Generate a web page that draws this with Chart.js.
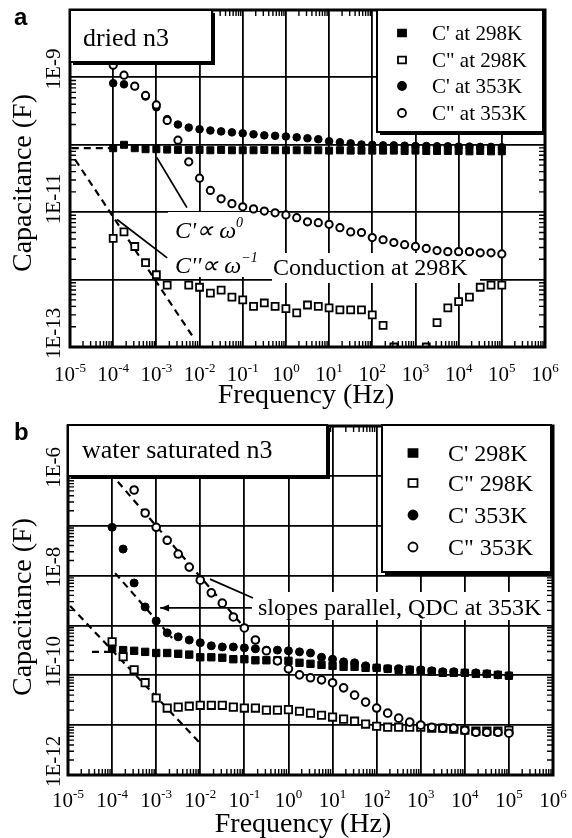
<!DOCTYPE html>
<html>
<head>
<meta charset="utf-8">
<script src="https://cdn.jsdelivr.net/npm/chart.js@4.4.0/dist/chart.umd.min.js"></script>
<style>
  html, body { margin: 0; padding: 0; background: #fff; }
  #wrap { position: relative; width: 572px; height: 838px; }
  canvas { position: absolute; left: 0; }
  #chartA { top: 0; }
  #chartB { top: 415px; }
</style>
</head>
<body>
<div id="wrap">
  <canvas id="chartA" width="572" height="415"></canvas>
  <canvas id="chartB" width="572" height="423"></canvas>
</div>
<script>
// measurement frequencies (Hz), 4 per decade, shared by both panels
const freq = [1e-4, 1.78e-4, 3.16e-4, 5.62e-4, 1e-3, 1.78e-3, 3.16e-3, 5.62e-3,
  1e-2, 1.78e-2, 3.16e-2, 5.62e-2, 0.1, 0.178, 0.316, 0.562,
  1, 1.78, 3.16, 5.62, 10, 17.8, 31.6, 56.2, 100, 178, 316, 562,
  1e3, 1.78e3, 3.16e3, 5.62e3, 1e4, 1.78e4, 3.16e4, 5.62e4, 1e5];

const xDecades = [1e-5, 1e-4, 1e-3, 1e-2, 1e-1, 1, 10, 100, 1e3, 1e4, 1e5, 1e6];
const xExponents = ['-5', '-4', '-3', '-2', '-1', '0', '1', '2', '3', '4', '5', '6'];

// ---- panel a : dried n3 ----
const legendA = ["C' at 298K", 'C" at 298K', "C' at 353K", 'C" at 353K'];
const yGridA = [1e-13, 1e-12, 1e-11, 1e-10, 1e-9, 1e-8];
const yTicksA = [1e-9, 1e-11, 1e-13];
const yLabelsA = ['1E-9', '1E-11', '1E-13'];

const cp298A = [8.9e-11, 1.0e-10, 8.9e-11, 8.6e-11, 8.6e-11, 8.5e-11, 8.4e-11, 8.4e-11,
  8.4e-11, 8.3e-11, 8.4e-11, 8.3e-11, 8.3e-11, 8.3e-11, 8.4e-11, 8.3e-11,
  8.3e-11, 8.3e-11, 8.3e-11, 8.3e-11, 8.2e-11, 8.3e-11, 8.2e-11, 8.2e-11, 8.2e-11, 8.2e-11, 8.2e-11, 8.1e-11,
  8.2e-11, 8.1e-11, 8.1e-11, 8.1e-11, 8.1e-11, 8.0e-11, 8.1e-11, 8.0e-11, 8.0e-11];
const cpp298A = [4.1e-12, 5.1e-12, 3.1e-12, 1.78e-12, 1.18e-12, 8.3e-13, null, 8.3e-13,
  7.7e-13, 6.3e-13, 7.0e-13, 5.5e-13, 5.0e-13, 4.0e-13, 4.5e-13, 4.0e-13,
  3.7e-13, 3.2e-13, 4.2e-13, 4.0e-13, 3.8e-13, 3.55e-13, 3.55e-13, 3.55e-13, 3.0e-13, 2.1e-13, 1.0e-13, null,
  null, 1.0e-13, 2.3e-13, 3.8e-13, 4.7e-13, 5.5e-13, 7.7e-13, 8.3e-13, 8.3e-13];
const cp353A = [8.2e-10, 7.9e-10, 7.4e-10, 5.2e-10, 3.6e-10, 2.4e-10, 2.0e-10, 1.8e-10,
  1.7e-10, 1.63e-10, 1.58e-10, 1.53e-10, 1.48e-10, 1.43e-10, 1.38e-10, 1.36e-10,
  1.33e-10, 1.29e-10, 1.25e-10, 1.21e-10, 1.13e-10, 1.09e-10, 1.05e-10, 1.01e-10, 1.0e-10, 9.8e-11, 9.8e-11, 9.7e-11,
  9.6e-11, 9.6e-11, 9.5e-11, 9.5e-11, 9.4e-11, 9.4e-11, 9.3e-11, 9.3e-11, 9.2e-11];
const cpp353A = [1.52e-9, 1.08e-9, 7.4e-10, 5.4e-10, 3.9e-10, 2.3e-10, 1.17e-10, 5.6e-11,
  3.2e-11, 2.1e-11, 1.58e-11, 1.34e-11, 1.2e-11, 1.12e-11, 1.04e-11, 9.8e-12,
  9.1e-12, 8.3e-12, 7.2e-12, 7.0e-12, 6.6e-12, 5.9e-12, 5.1e-12, 5.0e-12, 4.2e-12, 3.9e-12, 3.55e-12, 3.3e-12,
  3.1e-12, 2.9e-12, 2.7e-12, 2.6e-12, 2.6e-12, 2.6e-12, 2.5e-12, 2.5e-12, 2.4e-12];

// guide lines, panel a
const fitA1x = [1.1e-5, 8.5e-5], fitA1y = [8.9e-11, 8.9e-11];      // C' ~ w^0
const fitA2x = [1.32e-5, 7.1e-3], fitA2y = [6.0e-11, 1.4e-13];     // C'' ~ w^-1
const leadA1x = [1.02e-3, 5.1e-3], leadA1y = [6.5e-11, 1.17e-11];
const leadA2x = [1.23e-4, 1.78e-3], leadA2y = [7.8e-12, 2.1e-12];

// ---- panel b : water saturated n3 ----
const legendB = ["C' 298K", 'C" 298K', "C' 353K", 'C" 353K'];
const yGridB = [1e-12, 1e-11, 1e-10, 1e-9, 1e-8, 1e-7, 1e-6, 1e-5];
const yTicksB = [1e-6, 1e-8, 1e-10, 1e-12];
const yLabelsB = ['1E-6', '1E-8', '1E-10', '1E-12'];

const cp298B = [3.4e-10, 3.2e-10, 3.1e-10, 2.95e-10, 2.8e-10, 2.8e-10, 2.7e-10, 2.6e-10,
  2.3e-10, 2.3e-10, 2.25e-10, 2.1e-10, 2.1e-10, 2.0e-10, 2.0e-10, 2.0e-10,
  1.95e-10, 1.78e-10, 1.7e-10, 1.62e-10, 1.55e-10, 1.48e-10, 1.48e-10, 1.41e-10, 1.41e-10, 1.35e-10, 1.29e-10, 1.29e-10,
  1.23e-10, 1.18e-10, 1.12e-10, 1.12e-10, 1.12e-10, 1.07e-10, 1.07e-10, 1.02e-10, 9.8e-11];
const cpp298B = [4.7e-10, 2.35e-10, 1.29e-10, 7.1e-11, 3.5e-11, 2.2e-11, 2.3e-11, 2.4e-11,
  2.5e-11, 2.5e-11, 2.5e-11, 2.3e-11, 2.2e-11, 2.2e-11, 2.0e-11, 2.0e-11,
  2.05e-11, 1.9e-11, 1.74e-11, 1.58e-11, 1.45e-11, 1.32e-11, 1.2e-11, 1.05e-11, 9.5e-12, 9.1e-12, 9.1e-12, 9.1e-12,
  9.1e-12, 8.7e-12, 8.7e-12, 8.3e-12, 7.9e-12, 7.6e-12, 7.6e-12, 7.6e-12, 7.9e-12];
const cp353B = [9.3e-8, 3.4e-8, 7.1e-9, 2.35e-9, 1.23e-9, 7.1e-10, 5.9e-10, 5.1e-10,
  4.5e-10, 3.9e-10, 3.7e-10, 3.7e-10, 3.55e-10, 3.4e-10, 3.2e-10, 3.2e-10,
  3.1e-10, 2.95e-10, 2.8e-10, 2.3e-10, 2.1e-10, 1.86e-10, 1.78e-10, 1.55e-10, 1.41e-10, 1.35e-10, 1.35e-10, 1.29e-10,
  1.29e-10, 1.23e-10, 1.18e-10, 1.18e-10, 1.12e-10, 1.12e-10, 1.07e-10, 1.02e-10, 9.8e-11];
const cpp353B = [null, null, 5.2e-7, 1.8e-7, 9.3e-8, 5.1e-8, 2.7e-8, 1.48e-8,
  8.1e-9, 4.5e-9, 2.8e-9, 1.48e-9, 8.9e-10, 5.1e-10, 3.1e-10, 1.95e-10,
  1.35e-10, 1.02e-10, 8.9e-11, 8.1e-11, 7.1e-11, 5.6e-11, 4.0e-11, 2.9e-11, 2.2e-11, 1.74e-11, 1.38e-11, 1.15e-11,
  1.0e-11, 9.1e-12, 8.7e-12, 8.7e-12, 7.9e-12, 7.2e-12, 7.2e-12, 7.2e-12, 6.9e-12];

// guide lines, panel b
const fitB1x = [1.35e-4, 0.102], fitB1y = [7.6e-7, 8.9e-10];
const fitB2x = [1.17e-4, 2.3e-3], fitB2y = [1.12e-8, 5.6e-10];
const fitB3x = [1.12e-5, 9.8e-3], fitB3y = [2.45e-9, 4.4e-12];
const fitB4x = [3.5e-5, 1.0e-4], fitB4y = [2.95e-10, 2.95e-10];
const leadB1x = [1.66e-2, 0.157], leadB1y = [8.5e-9, 3.55e-9];
const arrowBx = [0.148, 1.23e-3], arrowBy = [2.24e-9, 2.24e-9];

const SERIF = '"Liberation Serif", "Times New Roman", serif';

const pts = (xs, ys) => xs.map((x, i) => ({ x, y: ys[i] })).filter((p) => p.y != null);

function markerSets(labels, ys, r) {
  return [
    { label: labels[0], data: pts(freq, ys[0]), pointStyle: 'rect', pointRadius: r * 1.3,
      backgroundColor: '#000', borderColor: '#000', borderWidth: 1, clip: 0, order: 4 },
    { label: labels[1], data: pts(freq, ys[1]), pointStyle: 'rect', pointRadius: r * 1.3,
      backgroundColor: '#fff', borderColor: '#000', borderWidth: 1.8, clip: 0, order: 3 },
    { label: labels[2], data: pts(freq, ys[2]), pointStyle: 'circle', pointRadius: r,
      backgroundColor: '#000', borderColor: '#000', borderWidth: 1, clip: 0, order: 2 },
    { label: labels[3], data: pts(freq, ys[3]), pointStyle: 'circle', pointRadius: r * 0.95,
      backgroundColor: '#fff', borderColor: '#000', borderWidth: 2, clip: 0, order: 1 },
  ];
}

function guide(xs, ys, dashed) {
  return {
    data: pts(xs, ys), showLine: true, pointRadius: 0, fill: false,
    borderColor: '#000', borderWidth: dashed ? 2.2 : 1.8,
    borderDash: dashed ? [7, 5] : [], order: 5,
  };
}

function logAxis(min, max, gridValues) {
  return {
    type: 'logarithmic', min, max,
    afterBuildTicks: (s) => { s.ticks = gridValues.map((v) => ({ value: v })); },
    ticks: { display: false },
    grid: { color: '#000', lineWidth: 1.8, drawTicks: false },
    border: { display: false },
  };
}

function drawRich(ctx, x, y, parts) {
  let cx = x;
  parts.forEach(([t, font, dy]) => {
    ctx.font = font;
    ctx.fillText(t, cx, y + (dy || 0));
    cx += ctx.measureText(t).width;
  });
}

function shadowBox(ctx, [x0, y0, x1, y1]) {
  ctx.fillStyle = '#fff';
  ctx.fillRect(x0, y0, x1 - x0, y1 - y0);
  ctx.strokeStyle = '#000';
  ctx.lineWidth = 2;
  ctx.strokeRect(x0, y0, x1 - x0, y1 - y0);
  ctx.beginPath();
  ctx.moveTo(x1 + 2, y0 + 3);
  ctx.lineTo(x1 + 2, y1 + 2);
  ctx.lineTo(x0 + 3, y1 + 2);
  ctx.stroke();
}

function legendMarker(ctx, i, x, y, s) {
  ctx.beginPath();
  if (i < 2) ctx.rect(x - s, y - s * 0.85, 2 * s, 1.7 * s);
  else ctx.arc(x, y, s, 0, Math.PI * 2);
  ctx.fillStyle = i % 2 === 0 ? '#000' : '#fff';
  ctx.fill();
  ctx.lineWidth = 1.8;
  ctx.strokeStyle = '#000';
  ctx.stroke();
}

function panelPlugin(p) {
  return {
    id: 'panel',
    beforeDatasetsDraw(chart) {
      const ctx = chart.ctx;
      ctx.save();
      ctx.fillStyle = '#fff';
      p.masks.forEach(([x0, y0, x1, y1]) => ctx.fillRect(x0, y0, x1 - x0, y1 - y0));
      ctx.restore();
    },
    afterDatasetsDraw(chart) {
      const { ctx, chartArea: a, scales: { x, y } } = chart;
      ctx.save();
      ctx.strokeStyle = '#000';
      ctx.fillStyle = '#000';

      // minor ticks on all four sides
      ctx.lineWidth = 1.4;
      ctx.beginPath();
      for (let e = -5; e < 6; e++) {
        for (let m = 2; m <= 9; m++) {
          const px = x.getPixelForValue(m * Math.pow(10, e));
          ctx.moveTo(px, a.bottom); ctx.lineTo(px, a.bottom - 6);
          ctx.moveTo(px, a.top); ctx.lineTo(px, a.top + 6);
        }
      }
      for (let e = p.yExp[0]; e < p.yExp[1]; e++) {
        for (let m = 2; m <= 9; m++) {
          const py = y.getPixelForValue(m * Math.pow(10, e));
          ctx.moveTo(a.left, py); ctx.lineTo(a.left + 6, py);
          ctx.moveTo(a.right, py); ctx.lineTo(a.right - 6, py);
        }
      }
      ctx.stroke();

      // frame
      ctx.lineWidth = 3;
      ctx.strokeRect(a.left, a.top, a.right - a.left, a.bottom - a.top);

      // arrow head
      if (p.arrow) {
        const ax = x.getPixelForValue(p.arrow[0]);
        const ay = y.getPixelForValue(p.arrow[1]);
        ctx.beginPath();
        ctx.moveTo(ax, ay);
        ctx.lineTo(ax + 9, ay - 3.5);
        ctx.lineTo(ax + 9, ay + 3.5);
        ctx.closePath();
        ctx.fill();
      }

      // title box and legend box
      p.boxes.forEach((b) => shadowBox(ctx, b));
      ctx.fillStyle = '#000';
      ctx.textBaseline = 'alphabetic';
      ctx.textAlign = 'left';
      ctx.font = p.title.size + 'px ' + SERIF;
      ctx.fillText(p.title.text, p.title.x, p.title.y);

      const lg = p.legend;
      lg.labels.forEach((t, i) => {
        legendMarker(ctx, i, lg.x, lg.ys[i], lg.marker);
        ctx.fillStyle = '#000';
        ctx.font = lg.size + 'px ' + SERIF;
        ctx.fillText(t, lg.tx, lg.ys[i] + lg.size * 0.33);
      });

      // annotations
      p.notes.forEach((n) => drawRich(ctx, n.x, n.y, n.parts));

      // x tick labels 10^n
      xDecades.forEach((v, i) => {
        const px = x.getPixelForValue(v);
        ctx.font = p.xLab.size + 'px ' + SERIF;
        const w1 = ctx.measureText('10').width;
        ctx.font = p.xLab.sup + 'px ' + SERIF;
        const w2 = ctx.measureText(xExponents[i]).width;
        const x0 = px - (w1 + w2) / 2;
        drawRich(ctx, x0, p.xLab.y, [
          ['10', p.xLab.size + 'px ' + SERIF],
          [xExponents[i], p.xLab.sup + 'px ' + SERIF, -p.xLab.raise],
        ]);
      });

      // y tick labels (rotated)
      ctx.font = p.yLab.size + 'px ' + SERIF;
      p.yLab.values.forEach((v, i) => {
        const py = y.getPixelForValue(v);
        ctx.save();
        ctx.translate(p.yLab.x, py + p.yLab.dy);
        ctx.rotate(-Math.PI / 2);
        ctx.textAlign = 'left';
        ctx.fillText(p.yLab.labels[i], 0, 0);
        ctx.restore();
      });

      // axis titles
      ctx.font = '28px ' + SERIF;
      ctx.textAlign = 'center';
      ctx.fillText('Frequency (Hz)', p.xTitle[0], p.xTitle[1]);
      ctx.save();
      ctx.translate(p.yTitle[0], p.yTitle[1]);
      ctx.rotate(-Math.PI / 2);
      ctx.textBaseline = 'middle';
      ctx.fillText('Capacitance (F)', 0, 0);
      ctx.restore();

      // panel letter
      ctx.textAlign = 'left';
      ctx.font = 'bold 24px "Liberation Sans", Arial, sans-serif';
      ctx.fillText(p.letter, 14, 25);
      ctx.restore();
    },
  };
}

function makeChart(id, padding, yMin, yMax, yGrid, datasets, plugin) {
  return new Chart(document.getElementById(id), {
    type: 'scatter',
    data: { datasets },
    options: {
      responsive: false,
      animation: false,
      events: [],
      layout: { padding },
      scales: { x: logAxis(1e-5, 1e6, xDecades), y: logAxis(yMin, yMax, yGrid) },
      plugins: { legend: { display: false }, tooltip: { enabled: false } },
    },
    plugins: [plugin],
  });
}

const I = 'italic 24px ' + SERIF, Isup = 'italic 14px ' + SERIF, N = '24px ' + SERIF;

makeChart('chartA', { left: 70, top: 10, right: 27, bottom: 68 }, 1e-13, 1e-8, yGridA,
  markerSets(legendA, [cp298A, cpp298A, cp353A, cpp353A], 3.8).concat([
    guide(fitA1x, fitA1y, true), guide(fitA2x, fitA2y, true),
    guide(leadA1x, leadA1y, false), guide(leadA2x, leadA2y, false),
  ]),
  panelPlugin({
    letter: 'a',
    yExp: [-13, -8],
    masks: [[168, 212, 274, 277], [272, 253, 480, 283]],
    boxes: [[70, 10, 212, 62], [377, 10, 543, 132]],
    title: { text: 'dried n3', x: 83, y: 46, size: 26 },
    legend: { x: 402, tx: 432, ys: [33, 60, 86, 113], size: 21, marker: 4, labels: legendA },
    notes: [
      { x: 175, y: 238, parts: [["C'\u221D \u03C9", I], ['0', Isup, -11]] },
      { x: 175, y: 273, parts: [["C''\u221D \u03C9", I], ['\u22121', Isup, -11]] },
      { x: 273, y: 275, parts: [['Conduction at 298K', N]] },
    ],
    arrow: null,
    xLab: { y: 381, size: 21, sup: 13, raise: 9 },
    yLab: { values: yTicksA, labels: yLabelsA, x: 60, dy: 12, size: 21 },
    xTitle: [306, 403],
    yTitle: [24, 183],
  }));

makeChart('chartB', { left: 68, top: 11, right: 19, bottom: 63 }, 1e-12, 1e-5, yGridB,
  markerSets(legendB, [cp298B, cpp298B, cp353B, cpp353B], 4).concat([
    guide(fitB1x, fitB1y, true), guide(fitB2x, fitB2y, true),
    guide(fitB3x, fitB3y, true), guide(fitB4x, fitB4y, true),
    guide(leadB1x, leadB1y, false), guide(arrowBx, arrowBy, false),
  ]),
  panelPlugin({
    letter: 'b',
    yExp: [-12, -5],
    masks: [[253, 177, 545, 205]],
    boxes: [[68, 10, 327, 61], [382, 10, 551, 157]],
    title: { text: 'water saturated n3', x: 82, y: 43, size: 26 },
    legend: { x: 413, tx: 448, ys: [38, 68, 100, 132], size: 24, marker: 4.5, labels: legendB },
    notes: [
      { x: 258, y: 200, parts: [['slopes parallel, QDC at 353K', N]] },
    ],
    arrow: [arrowBx[1], arrowBy[1]],
    xLab: { y: 392, size: 21, sup: 13, raise: 9 },
    yLab: { values: yTicksB, labels: yLabelsB, x: 60, dy: 12, size: 21 },
    xTitle: [303, 417],
    yTitle: [24, 192],
  }));
</script>
</body>
</html>
